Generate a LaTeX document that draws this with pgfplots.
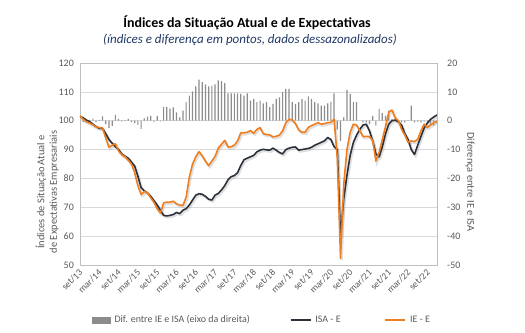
\documentclass[border=0pt]{standalone}
\usepackage{fontspec}
\setmainfont{Carlito}
\usepackage{pgfplots}
\pgfplotsset{compat=1.18}
\usepackage{pgfplotstable}
\definecolor{tickgray}{HTML}{595959}
\definecolor{gridgray}{HTML}{D9D9D9}
\definecolor{axisgray}{HTML}{BFBFBF}
\definecolor{barcol}{HTML}{8C8C8C}
\definecolor{isacol}{HTML}{2B313B}
\definecolor{iecol}{HTML}{F07E1E}
\definecolor{subcol}{HTML}{1F3864}

\pgfplotstableread{
i isa ie dif
0 101.5 101.7 0.8
1 101.0 100.5 -0.5
2 100.2 99.6 -0.3
3 99.7 99.2 0.3
4 98.8 98.6 0.7
5 98.0 97.9 -0.5
6 97.4 97.6 0.3
7 97.3 97.5 1.5
8 95.5 94.0 -1.2
9 93.5 90.8 -2.5
10 92.2 91.5 -1.8
11 91.0 92.0 2.0
12 90.0 89.5 0.6
13 88.5 88.2 -0.2
14 87.7 87.5 0.2
15 87.0 86.3 0.6
16 85.7 85.0 -0.5
17 84.3 82.0 -0.8
18 80.8 77.5 -1.4
19 76.8 74.4 -2.8
20 75.7 75.5 0.8
21 75.0 75.0 1.4
22 73.8 73.3 1.7
23 72.3 71.7 -0.3
24 70.8 69.5 1.7
25 69.0 68.0 -0.2
26 67.2 71.5 4.7
27 67.0 71.8 4.7
28 67.2 71.8 4.2
29 67.5 72.1 4.6
30 68.2 71.2 2.9
31 67.8 70.8 1.2
32 69.0 70.6 3.5
33 69.5 73.5 6.4
34 70.8 80.5 8.7
35 72.5 85.0 10.2
36 74.2 87.5 11.9
37 74.7 89.3 14.2
38 74.5 87.8 13.4
39 73.8 86.0 12.6
40 72.8 84.4 11.9
41 72.5 86.0 12.2
42 74.2 87.6 12.6
43 74.8 90.5 14.0
44 76.0 91.8 13.7
45 77.5 93.2 13.0
46 79.5 90.9 9.5
47 80.6 91.0 9.5
48 81.0 91.5 9.5
49 82.0 93.0 9.5
50 84.5 95.8 9.3
51 86.5 95.8 8.7
52 87.0 96.0 9.5
53 87.5 96.6 7.0
54 88.0 95.6 7.6
55 89.2 97.0 6.4
56 89.8 97.6 7.0
57 90.1 95.5 6.0
58 89.9 95.2 6.5
59 89.8 95.1 4.7
60 90.5 94.4 5.8
61 89.8 94.6 7.6
62 89.0 95.0 8.1
63 88.5 96.5 9.9
64 90.0 99.3 11.0
65 90.5 100.5 11.0
66 90.8 100.3 6.4
67 90.9 99.0 5.8
68 89.8 96.8 6.4
69 90.0 96.0 7.6
70 90.2 96.0 7.0
71 90.4 97.7 8.4
72 90.8 98.3 7.6
73 91.5 98.8 6.4
74 92.0 99.3 6.0
75 92.5 98.8 5.2
76 93.0 99.0 5.2
77 94.2 99.3 6.0
78 93.5 99.4 6.5
79 91.0 100.5 9.5
80 90.0 87.0 -3.0
81 59.8 52.3 -7.0
82 73.0 78.0 1.2
83 81.0 90.0 10.7
84 88.0 96.0 9.3
85 92.5 98.8 6.4
86 95.0 98.5 6.4
87 97.0 96.5 0.0
88 98.5 94.5 -0.6
89 98.8 94.6 -0.6
90 96.5 94.5 -1.2
91 93.0 93.2 1.7
92 88.5 86.0 -1.7
93 87.5 89.0 4.0
94 91.0 93.5 2.6
95 95.5 98.0 1.7
96 98.8 103.0 3.5
97 100.0 103.7 0.6
98 100.2 101.0 0.6
99 99.6 100.0 -0.3
100 98.5 97.0 -0.6
101 95.5 95.0 -0.6
102 93.5 92.5 0.3
103 90.0 93.0 5.2
104 88.3 92.8 -0.6
105 91.5 93.5 -0.3
106 94.5 96.5 -0.6
107 97.5 98.8 -0.3
108 99.2 97.7 -0.6
109 100.5 98.5 -1.2
110 101.3 99.3 -1.7
111 102.0 99.8 -1.0
}\datatab

\begin{document}
\begin{tikzpicture}
\useasboundingbox (-80bp,-68bp) rectangle (445bp,265bp);
% bars on right axis
\begin{axis}[
  at={(0,0)}, anchor=south west,
  scale only axis, width=357bp, height=202bp,
  xmin=0, xmax=111, ymin=-50, ymax=20,
  hide x axis,
  axis y line*=right,
  y axis line style={draw=none},
  ytick={-50,-40,...,20},
  ymajorgrids, grid style={gridgray, line width=0.6bp},
  major tick length=0pt,
  /pgf/number format/assume math mode=true,
  yticklabel style={font=\fontsize{10}{12}\selectfont, text=tickgray, anchor=west, inner sep=0pt, xshift=10bp},
  ybar, bar width=1.2bp,
]
\addplot[fill=barcol, draw=none] table[x=i, y=dif] {\datatab};
\end{axis}
% lines on left axis
\begin{axis}[
  at={(0,0)}, anchor=south west,
  scale only axis, width=357bp, height=202bp,
  xmin=0, xmax=111, ymin=50, ymax=120,
  axis line style={axisgray, line width=0.6bp},
  ytick={50,60,...,120},
  xtick={0,6,...,108},
  xticklabels={set/13,mar/14,set/14,mar/15,set/15,mar/16,set/16,mar/17,set/17,mar/18,set/18,mar/19,set/19,mar/20,set/20,mar/21,set/21,mar/22,set/22},
  ytick pos=left, xtick pos=bottom,
  major tick length=0pt,
  /pgf/number format/assume math mode=true,
  tick label style={font=\fontsize{10}{12}\selectfont, text=tickgray},
  yticklabel style={anchor=east, inner sep=0pt, xshift=-6bp},
  xticklabel style={font=\fontsize{9.5}{11}\selectfont, xshift=1bp, yshift=-6bp, rotate=45, anchor=east, inner sep=0pt},
  legend style={at={(0.51,-0.272)}, anchor=center, draw=none, fill=none,
    font=\fontsize{10}{12}\selectfont, text=tickgray, inner sep=0pt,
    /tikz/every odd column/.append style={column sep=2bp},
    /tikz/column 2/.append style={column sep=38bp},
    /tikz/column 4/.append style={column sep=42bp}},
  legend columns=3,
]
\addlegendimage{legend image code/.code={\fill[barcol] (0bp,-2.9bp) rectangle (18bp,2.9bp);}}
\addlegendentry{Dif. entre IE e ISA (eixo da direita)}
\addplot[gray!70, opacity=0.35, line width=2.2bp, transform canvas={xshift=1.2bp,yshift=-1.6bp}, forget plot] table[x=i, y=isa] {\datatab};
\addplot[gray!70, opacity=0.35, line width=2.2bp, transform canvas={xshift=1.2bp,yshift=-1.6bp}, forget plot] table[x=i, y=ie] {\datatab};
\addplot[isacol, line width=1.6bp, line join=round,
  legend image code/.code={\draw[isacol, line width=1.6bp] (0bp,0bp) -- (20bp,0bp);}] table[x=i, y=isa] {\datatab};
\addlegendentry{ISA - E}
\addplot[iecol, line width=1.6bp, line join=round,
  legend image code/.code={\draw[iecol, line width=1.6bp] (0bp,0bp) -- (20bp,0bp);}] table[x=i, y=ie] {\datatab};
\addlegendentry{IE - E}
\end{axis}
\node[font=\bfseries\fontsize{14}{16}\selectfont] at (167bp,242bp) {Índices da Situação Atual e de Expectativas};
\node[font=\itshape\fontsize{13}{15}\selectfont, text=subcol] at (170bp,225bp) {(índices e diferença em pontos, dados dessazonalizados)};
\node[font=\fontsize{10.5}{12.5}\selectfont, text=tickgray, rotate=90, align=center] at (-33bp,73bp) {Índices de Situação Atual e\\de Expectativas Empresariais};
\node[font=\fontsize{10.5}{12.5}\selectfont, text=tickgray, rotate=-90] at (390bp,83bp) {Diferença entre IE e ISA};
\end{tikzpicture}
\end{document}
